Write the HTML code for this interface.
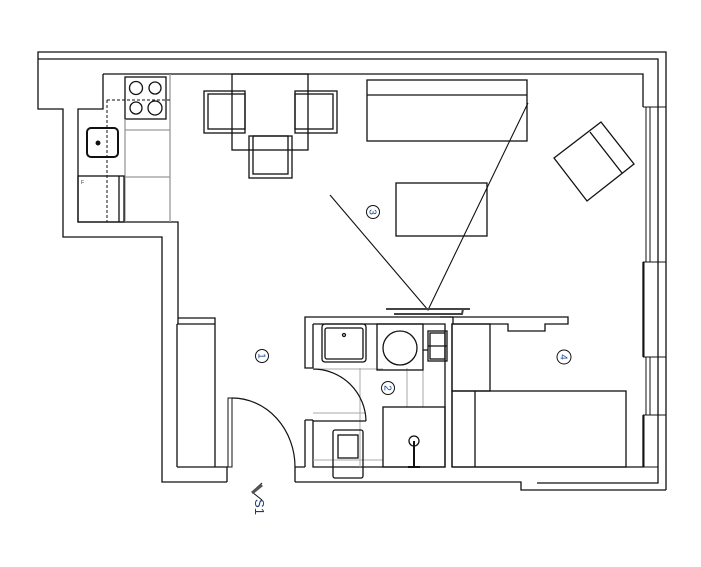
<!DOCTYPE html>
<html><head><meta charset="utf-8"><style>
html,body{margin:0;padding:0;background:#fff;width:701px;height:567px;overflow:hidden}
svg{display:block}
text{font-family:"Liberation Sans",sans-serif}
</style></head><body>
<svg width="701" height="567" viewBox="0 0 701 567" xmlns="http://www.w3.org/2000/svg" fill="none" stroke="#111" stroke-width="1.3">
<!-- outer wall -->
<path d="M227,482 H162 V237 H63 V109 H38 V52 H666 V490"/>
<path d="M295,482 H521 V490 H666"/>
<path d="M38,59 H658 V483 H537"/>
<path d="M295,482 V467 H305 M227,482 V467 H215"/>
<!-- inner wall -->
<path d="M103,74 H643 V107 M643,262 V357 M643,415 V467 H452"/>
<path d="M103,74 V109 H78 V222 H178 V324"/>
<path d="M177,324 V467 M215,324 V467 M177,324 H215 M178,318 H215 V324 M177,467 H215"/>
<!-- windows -->
<g stroke-width="1">
<path d="M643,107 H666 M643,262 H666 M646,107 V262 M650,107 V262 M643,357 H666 M643,415 H666 M646,357 V415 M650,415 V357"/>
<rect x="644" y="262" width="14" height="95"/>
<rect x="644" y="415" width="14" height="52"/>
</g>
<!-- kitchen -->
<rect x="125" y="77" width="41" height="42"/>
<circle cx="136" cy="88" r="6.5"/><circle cx="155" cy="88" r="6"/>
<circle cx="136" cy="108" r="6"/><circle cx="155" cy="108" r="7"/>
<path d="M125,119 V222 M170,74 V222" stroke="#999"/>
<path d="M125,130 H170 M125,177 H170" stroke="#999"/>
<rect x="87" y="128" width="31" height="29" rx="4" stroke-width="2"/>
<circle cx="98" cy="143" r="1.8" fill="#111"/>
<rect x="78" y="176" width="46" height="46"/>
<path d="M119,176 V222"/>
<path d="M107,100 V222 M107,100 H170" stroke-dasharray="3,2" stroke-width="1"/>
<text x="81" y="184" font-size="5" fill="#333" stroke="none">F</text>
<!-- dining -->
<rect x="232" y="74" width="76" height="76"/>
<rect x="204" y="91" width="41" height="42"/><rect x="208" y="94" width="37" height="35"/>
<rect x="295" y="91" width="42" height="42"/><rect x="295" y="94" width="38" height="35"/>
<rect x="249" y="136" width="43" height="42"/><rect x="253" y="136" width="35" height="38"/>
<!-- living -->
<rect x="367" y="80" width="160" height="61"/><path d="M367,95 H527"/>
<rect x="396" y="183" width="91" height="53"/>
<path d="M554,158 L601,122 L634,164 L587,201 Z M590,132 L622,173"/>
<path d="M330,195 L428,310 L528,103" stroke-width="1.1"/>
<path d="M386,309 H470 M394,314 H462 L463,309" stroke-width="2" stroke="#444"/>
<!-- bathroom -->
<path d="M305,324 V317 H453 M305,317 V368 H313 M305,420 V467 M305,420 H313 M313,324 V368 M313,420 V467 H445 V324 H313"/>
<path d="M360,368 V467 M407,368 V407 M423,368 V407 M313,413 H366 M313,460 H383 M313,369 H383" stroke="#aaa" stroke-width="1"/>
<rect x="322" y="324" width="44" height="38" rx="3"/><rect x="325" y="328" width="38" height="31" rx="2"/>
<circle cx="344" cy="335" r="1.5"/>
<rect x="377" y="324" width="46" height="46"/><circle cx="400" cy="348" r="17"/>
<rect x="428" y="331" width="19" height="30"/><rect x="430" y="333" width="15" height="26"/><path d="M428,346 H447 M423,350 H428"/>
<path d="M313,421 H366 M313,369 A53,53 0 0 1 366,421" stroke-width="1.2"/>
<rect x="383" y="407" width="62" height="60"/>
<circle cx="414" cy="441" r="5"/><path d="M414,441 V467 M408,467 H420" stroke-width="2"/>
<rect x="333" y="430" width="30" height="48" rx="2"/><rect x="338" y="435" width="20" height="23"/>
<!-- bedroom -->
<path d="M453,317 V324 M440,317 H568 V324 H545 V331 H508 V324 H452 V467"/>
<rect x="452" y="324" width="38" height="67"/>
<rect x="452" y="391" width="174" height="76"/><path d="M475,391 V467"/>
<!-- entrance door -->
<path d="M228,398 H232 V467 H228 Z" stroke-width="1"/>
<path d="M232,398 A63,69 0 0 1 295,467" stroke-width="1.2"/>
<!-- labels -->
<g stroke-width="1">
<circle cx="262" cy="356" r="6.5"/><circle cx="373" cy="212" r="6.5"/>
<circle cx="388" cy="388" r="6.5"/><circle cx="564" cy="357" r="7"/>
</g>
<g font-size="10" fill="#1a4a9a" stroke="none" text-anchor="middle">
<text transform="translate(262,356) rotate(90)" y="3.5">1</text>
<text transform="translate(373,212) rotate(90)" y="3.5">3</text>
<text transform="translate(388,388) rotate(90)" y="3.5">2</text>
<text transform="translate(564,357) rotate(90)" y="3.5">4</text>
<text transform="translate(259,507) rotate(90)" font-size="13" fill="#1a3a7a" y="4">S1</text>
</g>
<path d="M262,483 L252,492 L262,500" stroke-width="1"/>
<path d="M252,493 L262,485" stroke-width="3" stroke="#555"/>
</svg>
</body></html>
